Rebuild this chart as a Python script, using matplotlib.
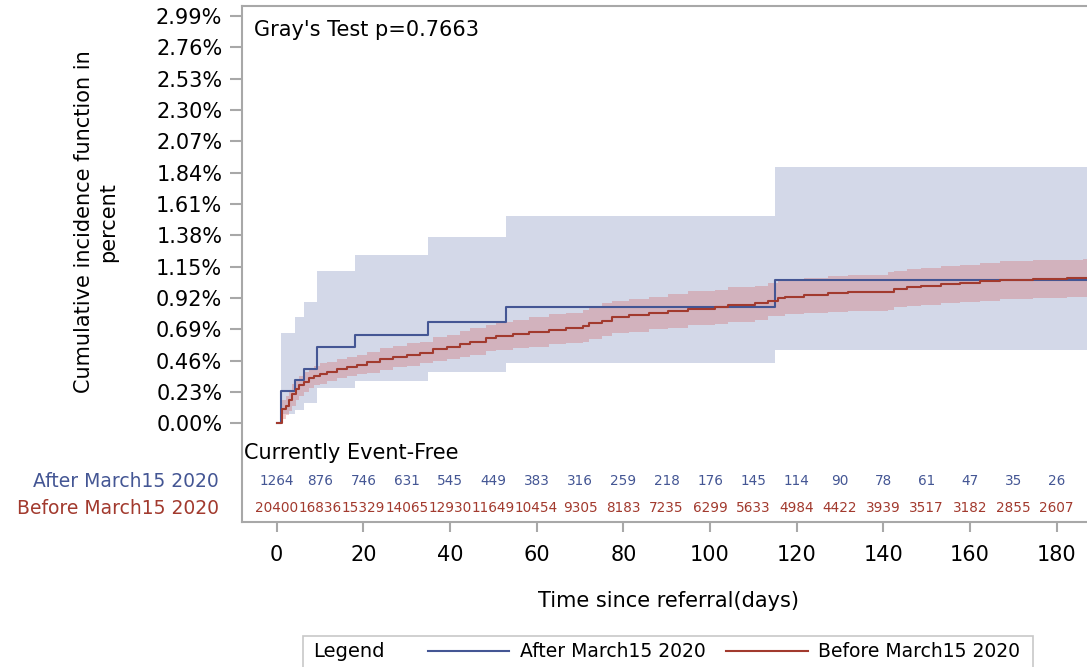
import matplotlib
matplotlib.use("Agg")
import matplotlib.pyplot as plt
from matplotlib.lines import Line2D
from matplotlib.patches import Rectangle

# ---------------- data ----------------
after_days = [0, 0.9, 4.2, 6.3, 9.2, 18.1, 35.0, 52.9, 114.9, 190]
after_cif = [0, 0.237, 0.318, 0.401, 0.563, 0.648, 0.744, 0.852, 1.053, 1.053]
after_lo = [0, 0.066, 0.100, 0.151, 0.257, 0.311, 0.375, 0.441, 0.539, 0.539]
after_hi = [0, 0.666, 0.783, 0.893, 1.121, 1.237, 1.367, 1.525, 1.881, 1.881]

before_days = [0, 1.2, 2.1, 2.8, 3.6, 4.4, 5.1, 6.3, 7.4, 8.6, 10.1, 11.6, 13.9, 16.2,
               18.5, 20.8, 23.9, 26.9, 30.0, 33.1, 36.1, 39.2, 42.2, 44.5, 48.4, 50.7,
               54.5, 58.3, 62.9, 66.7, 70.6, 72.1, 75.1, 77.4, 81.3, 85.9, 90.4, 95.0,
               101.2, 104.2, 110.4, 113.4, 115.7, 117.2, 121.8, 127.2, 131.8, 141.0,
               142.5, 145.5, 148.6, 153.2, 157.8, 162.4, 167.0, 174.6, 182.3, 186.1, 190]
before_cif = [0, 0.103, 0.127, 0.171, 0.215, 0.250, 0.281, 0.306, 0.330, 0.347, 0.362,
              0.379, 0.396, 0.416, 0.428, 0.448, 0.470, 0.489, 0.504, 0.519, 0.543,
              0.558, 0.582, 0.600, 0.625, 0.642, 0.656, 0.669, 0.686, 0.698, 0.715,
              0.735, 0.754, 0.783, 0.793, 0.808, 0.825, 0.840, 0.852, 0.867, 0.882,
              0.894, 0.918, 0.930, 0.943, 0.955, 0.960, 0.967, 0.985, 0.999, 1.009,
              1.021, 1.033, 1.046, 1.053, 1.058, 1.063, 1.068, 1.068]
before_lo = [0, 0.03, 0.06, 0.09, 0.13, 0.17, 0.20, 0.23, 0.26, 0.28, 0.29, 0.31, 0.33,
             0.35, 0.36, 0.37, 0.39, 0.41, 0.42, 0.44, 0.46, 0.47, 0.49, 0.50, 0.53,
             0.54, 0.55, 0.56, 0.58, 0.59, 0.60, 0.62, 0.64, 0.66, 0.67, 0.69, 0.70,
             0.72, 0.73, 0.74, 0.76, 0.79, 0.79, 0.80, 0.81, 0.82, 0.825, 0.833, 0.85,
             0.86, 0.87, 0.88, 0.89, 0.90, 0.91, 0.92, 0.925, 0.93, 0.93]
before_hi = [0, 0.17, 0.20, 0.24, 0.29, 0.32, 0.35, 0.38, 0.40, 0.42, 0.44, 0.45, 0.47,
             0.49, 0.50, 0.52, 0.55, 0.57, 0.59, 0.60, 0.63, 0.65, 0.68, 0.70, 0.72,
             0.74, 0.76, 0.78, 0.80, 0.81, 0.83, 0.85, 0.88, 0.90, 0.91, 0.93, 0.95,
             0.97, 0.98, 1.00, 1.01, 1.03, 1.05, 1.06, 1.07, 1.08, 1.09, 1.107, 1.12,
             1.13, 1.14, 1.155, 1.165, 1.18, 1.19, 1.195, 1.20, 1.205, 1.205]

risk_days = [0, 10, 20, 30, 40, 50, 60, 70, 80, 90, 100, 110, 120, 130, 140, 150, 160, 170, 180]
risk_after = [1264, 876, 746, 631, 545, 449, 383, 316, 259, 218, 176, 145, 114, 90, 78, 61, 47, 35, 26]
risk_before = [20400, 16836, 15329, 14065, 12930, 11649, 10454, 9305, 8183, 7235, 6299,
               5633, 4984, 4422, 3939, 3517, 3182, 2855, 2607]

y_ticks = [0.00, 0.23, 0.46, 0.69, 0.92, 1.15, 1.38, 1.61, 1.84, 2.07, 2.30, 2.53, 2.76, 2.99]
x_ticks = [0, 20, 40, 60, 80, 100, 120, 140, 160, 180]

group_after = "After March15 2020"
group_before = "Before March15 2020"
p_text = "Gray's Test p=0.7663"

# ---------------- style ----------------
BLUE = "#445694"
RED = "#A23A2E"
BLUE_FILL = "#6F7EB3"
RED_FILL = "#D05B5B"
FRAME = "#A8A8A8"

plt.rcParams['font.family'] = ['DejaVu Sans']

W, H = 1087, 667
fig = plt.figure(figsize=(W / 100, H / 100), dpi=100)

left_px, right_px, top_px, bottom_px = 241.7, 1090, 6, 521.7
ax = fig.add_axes([left_px / W, (H - bottom_px) / H,
                   (right_px - left_px) / W, (bottom_px - top_px) / H])

ax.set_xlim(-8.08, 187.7)
ax.set_ylim(-0.7225, 3.063)

# confidence bands
ax.fill_between(after_days[1:], after_lo[1:], after_hi[1:], step='post',
                color=BLUE_FILL, alpha=0.3, linewidth=0)
ax.fill_between(before_days[1:], before_lo[1:], before_hi[1:], step='post',
                color=RED_FILL, alpha=0.3, linewidth=0)

# curves
ax.step(after_days, after_cif, where='post', color=BLUE, lw=1.5)
ax.step(before_days, before_cif, where='post', color=RED, lw=1.5)

# spines
for s in ['left', 'bottom', 'top', 'right']:
    ax.spines[s].set_color(FRAME)
    ax.spines[s].set_linewidth(1.5)

ax.set_yticks(y_ticks)
ax.set_yticklabels([f"{v:.2f}%" for v in y_ticks])
ax.set_xticks(x_ticks)
ax.set_xticklabels([str(v) for v in x_ticks])
ax.tick_params(axis='y', direction='out', length=9, width=1.5, color=FRAME,
               labelsize=15, pad=5)
ax.tick_params(axis='x', direction='out', length=7.5, width=1.5, color=FRAME,
               labelsize=15, pad=9)

# p-value text
ax.text(-5.3, 2.888, p_text, fontsize=15, ha='left', va='center')

# at-risk table
ax.text(-7.45, -0.218, "Currently Event-Free", fontsize=15, ha='left', va='center')
for d, n in zip(risk_days, risk_after):
    ax.text(d, -0.424, str(n), fontsize=9.8, color=BLUE, ha='center', va='center')
for d, n in zip(risk_days, risk_before):
    ax.text(d, -0.622, str(n), fontsize=9.8, color=RED, ha='center', va='center')
ax.text(-13.3, -0.424, group_after, fontsize=13.5, color=BLUE, ha='right', va='center',
        clip_on=False)
ax.text(-13.3, -0.622, group_before, fontsize=13.5, color=RED, ha='right', va='center',
        clip_on=False)

# axis labels
fig.text(96 / W, (H - 222) / H, "Cumulative incidence function in\npercent", fontsize=15,
         rotation=90, ha='center', va='center', linespacing=1.3, multialignment='center')
fig.text(668 / W, (H - 601) / H, "Time since referral(days)", fontsize=15,
         ha='center', va='center')

# legend box
fig.patches.append(Rectangle((302.7 / W, (H - 672) / H), (1033.3 - 302.7) / W, (672 - 635.7) / H,
                             transform=fig.transFigure, fill=False, edgecolor="#C8C8C8",
                             linewidth=1.2))
ly = (H - 651.3) / H
fig.text(313 / W, ly, "Legend", fontsize=14, ha='left', va='center')
fig.lines.append(Line2D([427.7 / W, 509 / W], [ly, ly], transform=fig.transFigure,
                        color=BLUE, lw=1.5))
fig.text(520 / W, ly, group_after, fontsize=13.5, ha='left', va='center')
fig.lines.append(Line2D([726 / W, 807.7 / W], [ly, ly], transform=fig.transFigure,
                        color=RED, lw=1.5))
fig.text(818.3 / W, ly, group_before, fontsize=13.5, ha='left', va='center')

fig.savefig("out.png", dpi=100)
